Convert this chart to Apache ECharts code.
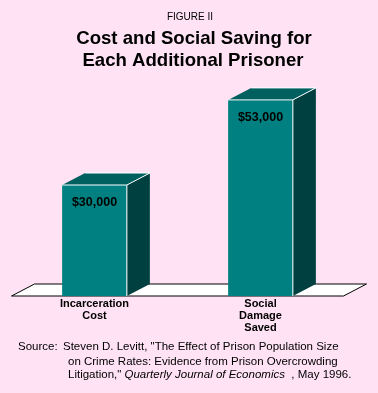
<!DOCTYPE html>
<html>
<head>
<meta charset="utf-8">
<script src="https://cdn.jsdelivr.net/npm/echarts@6/dist/echarts.min.js"></script>
<style>
  html, body { margin: 0; padding: 0; background: #FFE3F5; }
  #main { width: 378px; height: 393px; }
</style>
</head>
<body>
<div id="main"></div>
<script>
var categories = ['Incarceration\nCost', 'Social\nDamage\nSaved'];
var values = [30000, 53000];
var valueLabels = ['$30,000', '$53,000'];

var chartDom = document.getElementById('main');
var myChart = echarts.init(chartDom, null, { renderer: 'canvas' });

// depth of the fake 3D extrusion (pixels)
var DX = 23, DY = -12;
var FONT = 'Arial, "Liberation Sans", sans-serif';

function renderFloor(params, api) {
    var cs = params.coordSys;
    var yF = cs.y + cs.height;
    var xL = cs.x, xR = cs.x + cs.width;
    return {
        type: 'polygon',
        shape: { points: [[xL, yF], [xR, yF], [xR + DX, yF + DY], [xL + DX, yF + DY]] },
        style: { fill: '#ffffff', stroke: '#000000', lineWidth: 1 }
    };
}

function renderBar(params, api) {
    var base = api.coord([api.value(0), 0]);
    var top = api.coord([api.value(0), api.value(1)]);
    var w = api.size([1, 0])[0] * 0.39;
    var x0 = base[0] - w / 2, x1 = base[0] + w / 2;
    var y0 = top[1], y1 = base[1];
    return {
        type: 'group',
        children: [
            {
                type: 'polygon',
                shape: { points: [[x1, y0], [x1 + DX, y0 + DY], [x1 + DX, y1 + DY], [x1, y1]] },
                style: { fill: '#004040' }
            },
            {
                type: 'polygon',
                shape: { points: [[x0, y0], [x0 + DX, y0 + DY], [x1 + DX, y0 + DY], [x1, y0]] },
                style: { fill: '#006060' }
            },
            {
                type: 'rect',
                shape: { x: x0, y: y0, width: w, height: y1 - y0 },
                style: { fill: '#008080' }
            },
            {
                type: 'polyline',
                shape: { points: [[x0, y0], [x1, y0], [x1, y1]] },
                style: { stroke: '#ffffff', lineWidth: 1, fill: null }
            },
            {
                type: 'polyline',
                shape: { points: [[x0 + DX, y0 + DY], [x1 + DX, y0 + DY], [x1, y0]] },
                style: { stroke: '#ffffff', lineWidth: 1, fill: null }
            },
            {
                type: 'text',
                style: {
                    x: base[0], y: y0 + 18,
                    text: valueLabels[params.dataIndex],
                    align: 'center', verticalAlign: 'middle',
                    font: 'bold 12.5px ' + FONT,
                    fill: '#000000'
                }
            }
        ]
    };
}

var srcFont = '11.5px ' + FONT;

var option = {
    backgroundColor: '#FFE3F5',
    grid: { left: 11.5, width: 332, top: 74, bottom: 97 },
    xAxis: {
        type: 'category',
        data: categories,
        axisLine: { show: false },
        axisTick: { show: false },
        axisLabel: {
            interval: 0, margin: 2, color: '#000', fontSize: 11, fontWeight: 'bold',
            lineHeight: 12, fontFamily: FONT
        }
    },
    yAxis: { type: 'value', min: 0, max: 60000, show: false },
    series: [
        {
            type: 'custom',
            name: 'floor',
            z: 1,
            silent: true,
            renderItem: renderFloor,
            data: [[0, 0]]
        },
        {
            type: 'custom',
            name: 'bars',
            z: 2,
            renderItem: renderBar,
            encode: { x: 0, y: 1 },
            data: values.map(function (v, i) { return [i, v]; })
        }
    ],
    graphic: [
        { type: 'text', x: 190, y: 17, style: { text: 'FIGURE II', font: '10px ' + FONT, fill: '#000', align: 'center', verticalAlign: 'middle' } },
        { type: 'text', x: 194, y: 39, style: { text: 'Cost and Social Saving for', font: 'bold 18.6px ' + FONT, fill: '#000', align: 'center', verticalAlign: 'middle' } },
        { type: 'text', x: 193, y: 61, style: { text: 'Each Additional Prisoner', font: 'bold 18.6px ' + FONT, fill: '#000', align: 'center', verticalAlign: 'middle' } },
        { type: 'text', left: 18, top: 341, style: { text: 'Source:', font: srcFont, fill: '#000' } },
        { type: 'text', left: 63, top: 341, style: { text: 'Steven D. Levitt, "The Effect of Prison Population Size', font: srcFont, fill: '#000' } },
        { type: 'text', left: 68, top: 356, style: { text: 'on Crime Rates: Evidence from Prison Overcrowding', font: srcFont, fill: '#000' } },
        {
            type: 'text', left: 68, top: 369,
            style: {
                text: '{n|Litigation," }{i|Quarterly Journal of Economics}{n|  , May 1996.}',
                font: srcFont, fill: '#000',
                rich: {
                    n: { fontSize: 11.5, fontFamily: FONT, fill: '#000' },
                    i: { fontSize: 11.5, fontStyle: 'italic', fontFamily: FONT, fill: '#000' }
                }
            }
        }
    ]
};
option && myChart.setOption(option);
</script>
</body>
</html>
